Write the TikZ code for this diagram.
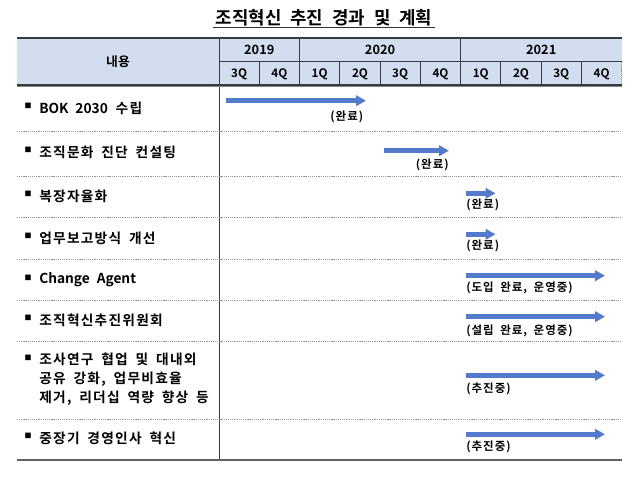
\documentclass[tikz,border=0pt]{standalone}
\usepackage{fontspec}
\setmainfont{Noto Sans CJK KR}[BoldFont={Noto Sans CJK KR Bold}, WordSpace=2.2]
\newfontfamily\krsp{Noto Sans CJK KR}[BoldFont={Noto Sans CJK KR Bold}, LetterSpace=9, WordSpace=1.8]
\usetikzlibrary{arrows.meta}
\definecolor{hdrblue}{RGB}{210,222,240}
\definecolor{barblue}{RGB}{84,122,205}
\definecolor{darkline}{RGB}{55,60,65}
\definecolor{dotgray}{RGB}{150,150,150}
\begin{document}
\begin{tikzpicture}[x=0.75pt,y=-0.75pt,
  body/.style={font=\fontsize{10.3}{14.4}\selectfont\krsp\bfseries, inner sep=0pt, anchor=west, align=left},
  bul/.style={font=\fontsize{5.2}{6}\selectfont, inner sep=0pt},
  hdr/.style={font=\fontsize{9.6}{11}\selectfont\bfseries, inner sep=0pt},
  qtr/.style={font=\fontsize{8.8}{10}\selectfont\bfseries, inner sep=0pt},
  lbl/.style={font=\fontsize{8.6}{10}\selectfont\krsp\bfseries, inner sep=0pt},
  bar/.style={barblue, line width=3.75pt, -{Triangle[length=7.5pt,width=7.8pt]}},
  rowsep/.style={dotgray, line width=0.6pt, dash pattern=on 0.8pt off 0.6pt},
  grid/.style={darkline, line width=0.75pt}
]
\useasboundingbox (0,0) rectangle (640,478);
% title
\node[font=\fontsize{13.4}{15}\selectfont\bfseries, inner sep=0pt] (title) at (324,18) {조직혁신 추진 경과 및 계획};
\coordinate (ulL) at (213,27.7);
\coordinate (ulR) at (435,27.7);
\draw[line width=0.9pt, black!80] (ulL) -- (ulR);
% header
\fill[hdrblue] (17,38) rectangle (621.7,85);
\draw[grid, line width=1pt] (17,38) -- (621.7,38);
\draw[grid] (219,62) -- (621.7,62);
\foreach \x in {259.3,339.8,380.1,420.3,500.9,541.2,581.4} \draw[grid] (\x,62) -- (\x,85);
\foreach \x in {299.5,460.6} \draw[grid] (\x,38) -- (\x,85);
\draw[rowsep] (621.7,62) -- (621.7,85);
\draw[grid] (219,38) -- (219,460);
\draw[darkline, line width=1pt] (17,85) -- (621.7,85);
\draw[gray, line width=0.6pt] (17,86.6) -- (621.7,86.6);
\node[hdr] (hnr) at (118,61.5) {내용};
\node[hdr] (y19) at (259.3,50) {2019};
\node[hdr] (y20) at (380.1,50) {2020};
\node[hdr] (y21) at (541.2,50) {2021};
\foreach \c/\t [count=\i] in {239.1/3Q,279.4/4Q,319.6/1Q,360/2Q,400.2/3Q,440.5/4Q,480.8/1Q,521/2Q,561.3/3Q,601.6/4Q}
  \node[qtr] (q\i) at (\c,74) {\t};
% row separators
\foreach \y in {131.7,176.7,217,259,300,341,419} \draw[rowsep] (17,\y) -- (621.7,\y);
\draw[darkline!80, line width=1.1pt] (17,460) -- (621.7,460);
% left items
\foreach \y [count=\i] in {105.8,150.2,194.2,235.8,277.5,318.2,357.5,435.8}
  \node[bul] (b\i) at (28,\y) {■};
\node[body] (t1) at (39,108.3) {{\rmfamily BOK 2030} 수립};
\node[body] (t2) at (39,152.7) {조직문화 진단 컨설팅};
\node[body] (t3) at (39,196.7) {복장자율화};
\node[body] (t4) at (39,238.3) {업무보고방식 개선};
\node[body] (t5) at (39,280) {\rmfamily Change Agent};
\node[body] (t6) at (39,320.7) {조직혁신추진위원회};
\node[body] (t7) at (39,379.3) {조사연구 협업 및 대내외\\공유 강화, 업무비효율\\제거, 리더십 역량 향상 등};
\node[body] (t8) at (39,438.3) {중장기 경영인사 혁신};
% bars
\coordinate (s1) at (226,100.7); \coordinate (e1) at (366,100.7);
\coordinate (s2) at (384.3,150.7); \coordinate (e2) at (449,150.7);
\coordinate (s3) at (466,193.3); \coordinate (e3) at (495.5,193.3);
\coordinate (s4) at (466,234.3); \coordinate (e4) at (495.5,234.3);
\coordinate (s5) at (466,275.7); \coordinate (e5) at (605,275.7);
\coordinate (s6) at (466,316.7); \coordinate (e6) at (605,316.7);
\coordinate (s7) at (466,375.3); \coordinate (e7) at (605,375.3);
\coordinate (s8) at (466,434.3); \coordinate (e8) at (605,434.3);
\foreach \i in {1,...,8} \draw[bar] (s\i) -- (e\i);
% labels
\node[lbl, anchor=east] (l1) at (363.5,116.7) {(완료)};
\node[lbl, anchor=east] (l2) at (449,165) {(완료)};
\node[lbl, anchor=west] (l3) at (466,205) {(완료)};
\node[lbl, anchor=west] (l4) at (466,245.7) {(완료)};
\node[lbl, anchor=west] (l5) at (466,288.3) {(도입 완료, 운영중)};
\node[lbl, anchor=west] (l6) at (466,330.7) {(설립 완료, 운영중)};
\node[lbl, anchor=west] (l7) at (466,389.3) {(추진중)};
\node[lbl, anchor=west] (l8) at (466,446.7) {(추진중)};
\end{tikzpicture}
\end{document}
